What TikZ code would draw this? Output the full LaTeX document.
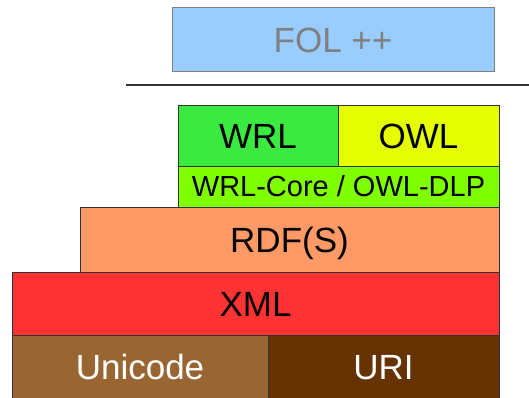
\documentclass[tikz,border=0pt]{standalone}
\usepackage{fontspec}
\setmainfont{Liberation Sans}
\definecolor{folfill}{HTML}{99CCFF}
\definecolor{folgray}{HTML}{808080}
\definecolor{wrlfill}{HTML}{3AEA40}
\definecolor{owlfill}{HTML}{E5FF00}
\definecolor{corefill}{HTML}{80FF00}
\definecolor{rdffill}{HTML}{FF9966}
\definecolor{xmlfill}{HTML}{FF3333}
\definecolor{unifill}{HTML}{996633}
\definecolor{urifill}{HTML}{663300}
\definecolor{edge}{HTML}{333333}
\tikzset{
  layer/.style={draw=edge, line width=1pt, rectangle, inner sep=0pt, outer sep=0pt,
    font=\fontsize{35}{40}\selectfont, text height=25pt, text depth=0pt},
  smalllayer/.style={layer, font=\fontsize{29}{33}\selectfont, text height=20.8pt},
}
\newcommand{\layerbox}[7]{% name, x1, y1, x2, y2, style, text
  \node[#6, minimum width={(#4-#2)*1pt}, minimum height={(#5-#3)*1pt}]
    (#1) at ({(#2+#4)/2},{(#3+#5)/2}) {#7};}
\begin{document}
\begin{tikzpicture}[x=1pt, y=-1pt]
  \useasboundingbox (0,0) rectangle (529,398);
  % future logic layer
  \layerbox{fol}{172}{8}{494}{72}{layer, draw=folgray, fill=folfill, text=folgray}{FOL ++}
  % separator
  \coordinate (sepL) at (126,85);
  \coordinate (sepR) at (529,85);
  \draw[line width=1.5pt, edge] (sepL) -- (sepR);
  % rule and ontology layers
  \layerbox{wrl}{178}{106}{338}{166}{layer, fill=wrlfill}{WRL}
  \layerbox{owl}{338}{106}{499}{166}{layer, fill=owlfill}{OWL}
  \layerbox{core}{178}{166}{499}{207}{smalllayer, fill=corefill}{WRL-Core / OWL-DLP}
  % data layers
  \layerbox{rdf}{80}{207}{499}{272}{layer, fill=rdffill}{RDF(S)}
  \layerbox{xml}{12}{272}{499}{335}{layer, fill=xmlfill}{XML}
  \layerbox{uni}{12}{335}{268}{398}{layer, fill=unifill, text=white}{Unicode}
  \layerbox{uri}{268}{335}{499}{398}{layer, fill=urifill, text=white}{URI}
\end{tikzpicture}
\end{document}
